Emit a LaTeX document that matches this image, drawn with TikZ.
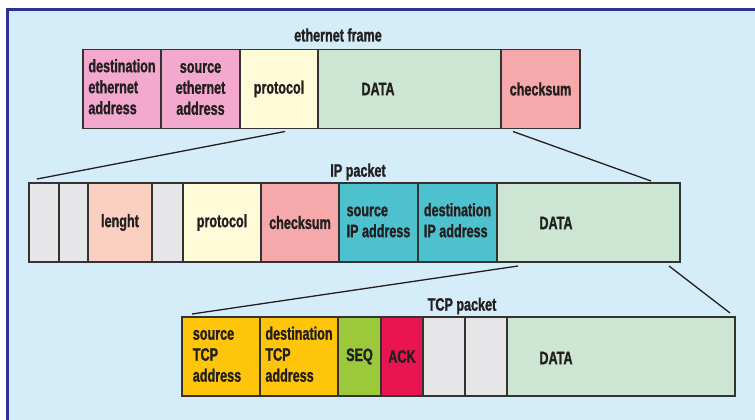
\documentclass[tikz,border=0pt]{standalone}
\usepackage{fontspec}
\setmainfont{Liberation Sans}[FakeStretch=0.7, BoldFeatures={FakeBold=1.2}]
\usetikzlibrary{calc}
\definecolor{frameblue}{HTML}{2E3192}
\definecolor{bgblue}{HTML}{D5EDF8}
\definecolor{pinkcell}{HTML}{F3A9CD}
\definecolor{creamcell}{HTML}{FFFAD7}
\definecolor{datacell}{HTML}{CDE6D3}
\definecolor{redcell}{HTML}{F6A9AA}
\definecolor{peachcell}{HTML}{FAD0C0}
\definecolor{greycell}{HTML}{E6E6E8}
\definecolor{tealcell}{HTML}{4EC1CE}
\definecolor{ambercell}{HTML}{FFC50A}
\definecolor{seqcell}{HTML}{9CC83C}
\definecolor{ackcell}{HTML}{EA1550}
\definecolor{edge}{HTML}{333333}
\definecolor{ink}{HTML}{231F20}
\begin{document}
\begin{tikzpicture}[x=1pt,y=-1pt,
  font=\bfseries\fontsize{18}{21}\selectfont,
  every node/.style={text=ink},
  cell/.style={draw=edge, line width=1.5pt, inner sep=0pt, outer sep=0pt, align=center},
  row/.style={minimum height=79pt},
  link/.style={draw=ink, line width=1.3pt}]

% page and panel background
\useasboundingbox (0,0) rectangle (755,420);
\fill[white] (0,0) rectangle (755,420);
\fill[bgblue] (8,11) rectangle (755,420);
\draw[frameblue, line width=3pt] (7,420) -- (7,10) -- (755,10);

% ethernet frame
\node (etitle) at (338,35) {ethernet frame};
\begin{scope}[every node/.append style={row}]
\node[cell, fill=pinkcell,  minimum width=78pt]  (edst)   at (122,89)   {\begin{tabular}{@{}l@{}}destination\\ethernet\\address\end{tabular}};
\node[cell, fill=pinkcell,  minimum width=79pt]  (esrc)   at (200.5,89) {source\\ethernet\\address};
\node[cell, fill=creamcell, minimum width=78pt]  (eproto) at (279,89)   {protocol};
\node[cell, fill=datacell,  minimum width=183pt] (edata)  at (409.5,89) {};
\node[cell, fill=redcell,   minimum width=79pt]  (ecks)   at (540.5,89) {checksum};
\end{scope}
\node (edatalbl) at (378,89) {DATA};

% IP packet
\node (iptitle) at (358,172) {IP packet};
\begin{scope}[every node/.append style={row}]
\node[cell, fill=greycell,  minimum width=30pt]  (ipa)     at (44,222.5)    {};
\node[cell, fill=greycell,  minimum width=29pt]  (ipb)     at (73.5,222.5)  {};
\node[cell, fill=peachcell, minimum width=64pt]  (iplen)   at (120,222.5)   {lenght};
\node[cell, fill=greycell,  minimum width=31pt]  (ipc)     at (167.5,222.5) {};
\node[cell, fill=creamcell, minimum width=78pt]  (ipproto) at (222,222.5)   {protocol};
\node[cell, fill=redcell,   minimum width=78pt]  (ipcks)   at (300,222.5)   {checksum};
\node[cell, fill=tealcell,  minimum width=79pt]  (ipsrc)   at (378.5,222.5) {\begin{tabular}{@{}l@{}}source\\IP address\end{tabular}};
\node[cell, fill=tealcell,  minimum width=79pt]  (ipdst)   at (457.5,222.5) {\begin{tabular}{@{}l@{}}destination\\IP address\end{tabular}};
\node[cell, fill=datacell,  minimum width=183pt] (ipdata)  at (588.5,222.5) {};
\end{scope}
\node (ipdatalbl) at (556,223) {DATA};

% TCP packet
\node (tcptitle) at (462,306) {TCP packet};
\begin{scope}[every node/.append style={row}]
\node[cell, fill=ambercell, minimum width=78pt]  (tsrc)  at (221,356.5) {};
\node[cell, fill=ambercell, minimum width=78pt]  (tdst)  at (299,356.5) {\begin{tabular}{@{}l@{}}destination\\TCP\\address\end{tabular}};
\node[cell, fill=seqcell,   minimum width=43pt]  (tseq)  at (359.5,356.5) {SEQ};
\node[cell, fill=ackcell,   minimum width=42pt]  (tack)  at (402,356.5) {ACK};
\node[cell, fill=greycell,  minimum width=42pt]  (tga)   at (444,356.5) {};
\node[cell, fill=greycell,  minimum width=42pt]  (tgb)   at (486,356.5) {};
\node[cell, fill=datacell,  minimum width=228pt] (tdata) at (621,356.5) {};
\end{scope}
\node (tsrclbl) at (217,356.5) {\begin{tabular}{@{}l@{}}source\\TCP\\address\end{tabular}};
\node (tdatalbl) at (556,358) {DATA};

% zoom-out lines from each payload field to the layer below
\coordinate (ea) at ([xshift=6pt,yshift=-3pt]eproto.south);
\coordinate (eb) at ([xshift=12pt,yshift=-3pt]ecks.south west);
\coordinate (ia) at ([xshift=8pt,yshift=4pt]ipa.north west);
\coordinate (ib) at ([xshift=-29pt,yshift=2pt]ipdata.north east);
\coordinate (ic) at ([xshift=21pt,yshift=-4pt]ipdata.south west);
\coordinate (id) at ([xshift=-11pt,yshift=-4pt]ipdata.south east);
\coordinate (ta) at ([xshift=10pt,yshift=3pt]tsrc.north west);
\coordinate (tb) at ([xshift=-5pt,yshift=4pt]tdata.north east);
\draw[link] (ea) -- (ia);
\draw[link] (eb) -- (ib);
\draw[link] (ic) -- (ta);
\draw[link] (id) -- (tb);
\end{tikzpicture}
\end{document}
